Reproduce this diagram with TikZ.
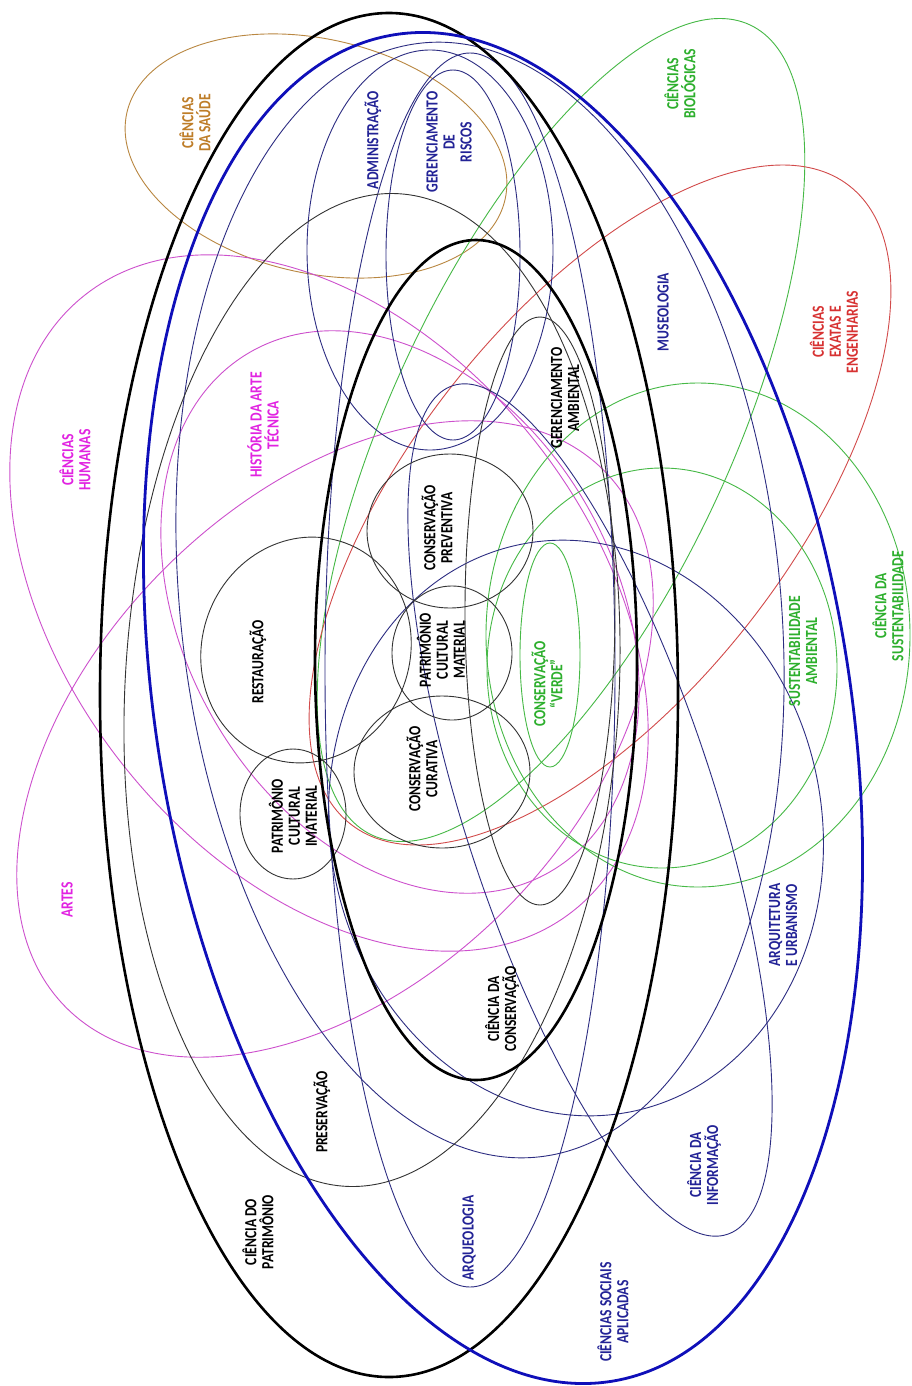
\documentclass[tikz,border=0pt]{standalone}
\usepackage{fontspec}
\newfontfamily\labfont{Carlito}[FakeStretch=0.8]
\definecolor{kblue}{RGB}{15,15,185}
\definecolor{tblue}{RGB}{45,45,130}
\definecolor{lblue}{RGB}{35,35,150}
\definecolor{kgreen}{RGB}{70,185,70}
\definecolor{lgreen}{RGB}{45,175,45}
\definecolor{kred}{RGB}{210,75,75}
\definecolor{lred}{RGB}{215,50,50}
\definecolor{kmag}{RGB}{205,80,205}
\definecolor{lmag}{RGB}{225,35,225}
\definecolor{kbrown}{RGB}{185,135,65}
\definecolor{lbrown}{RGB}{190,125,40}
\begin{document}
\begin{tikzpicture}[x=1pt,y=-1pt,
  thin line/.style={line width=0.9pt},
  kthin/.style={thin line,draw=black!80},
  bthin/.style={thin line,draw=tblue},
  gthin/.style={thin line,draw=kgreen},
  rthin/.style={thin line,draw=kred},
  mthin/.style={thin line,draw=kmag},
  brthin/.style={thin line,draw=kbrown},
  kthick/.style={line width=2.6pt,draw=black},
  bthick/.style={line width=2.8pt,draw=kblue},
  lab/.style={font=\labfont\bfseries\fontsize{17}{17}\selectfont,align=center,rotate=90,inner sep=0pt}]
\fill[white] (0,0) rectangle (911,1386);
\useasboundingbox (0,0) rectangle (911,1386);
% outer fields
\draw[brthin,rotate around={-13:(316,156)}] (316,156) ellipse [x radius=194,y radius=117];
\draw[gthin,rotate around={-25:(561,430)}] (561,430) ellipse [x radius=170,y radius=447];
\draw[rthin,rotate around={-38:(600,505)}] (600,505) ellipse [x radius=190,y radius=405];
\draw[mthin,rotate around={38.5:(329,603)}] (329,603) ellipse [x radius=262,y radius=393];
\draw[mthin,rotate around={45:(335,739)}] (335,739) ellipse [x radius=380,y radius=241];
\draw[mthin,rotate around={30:(400,612)}] (400,612) ellipse [x radius=215,y radius=300];
\draw[gthin] (662,668) ellipse [x radius=175,y radius=200];
\draw[gthin] (698,635) ellipse [x radius=212,y radius=252];
\draw[gthin] (550,655) ellipse [x radius=30,y radius=112];
% blue thin
\draw[bthin] (430,250) ellipse [x radius=123,y radius=200];
\draw[bthin] (453,255) ellipse [x radius=67,y radius=185];
\draw[bthin,rotate around={6:(480,600)}] (480,600) ellipse [x radius=300,y radius=560];
\draw[bthin] (470,670) ellipse [x radius=145,y radius=617];
\draw[bthin,rotate around={10:(576,828)}] (576,828) ellipse [x radius=246,y radius=289];
\draw[bthin,rotate around={17.9:(590,810)}] (590,810) ellipse [x radius=126,y radius=446];
% black thin
\draw[kthin,rotate around={-3:(372,690)}] (372,690) ellipse [x radius=247,y radius=497];
\draw[kthin] (540,611) ellipse [x radius=75,y radius=294];
\draw[kthin,rotate around={-20:(306,650)}] (306,650) ellipse [x radius=104,y radius=114];
\draw[kthin] (293,814) ellipse [x radius=53,y radius=65];
\draw[kthin] (442,772) ellipse [x radius=88,y radius=76];
\draw[kthin] (452,653) ellipse [x radius=60,y radius=67];
\draw[kthin] (450,531) ellipse [x radius=83,y radius=77];
% thick
\draw[kthick] (389,695) ellipse [x radius=289,y radius=682];
\draw[kthick] (476,660) ellipse [x radius=161,y radius=420];
\draw[bthick,rotate around={9.2:(503,708)}] (503,708) ellipse [x radius=347,y radius=682];
% labels
\node[lab,text=lbrown] (saude) at (195,123) {CIÊNCIAS\\DA SAÚDE};
\node[lab,text=lblue] (adm) at (373,140) {ADMINISTRAÇÃO};
\node[lab,text=lblue] (gris) at (449,142) {GERENCIAMENTO\\DE\\RISCOS};
\node[lab,text=lgreen] (bio) at (680,84) {CIÊNCIAS\\BIOLÓGICAS};
\node[lab,text=lblue] (mus) at (663,312) {MUSEOLOGIA};
\node[lab,text=lred] (exa) at (834,332) {CIÊNCIAS\\EXATAS E\\ENGENHARIAS};
\node[lab,text=lmag] (hum) at (75,460) {CIÊNCIAS\\HUMANAS};
\node[lab,text=lmag] (hist) at (263,425) {HISTÓRIA DA ARTE\\TÉCNICA};
\node[lab] (gamb) at (565,398) {GERENCIAMENTO\\AMBIENTAL};
\node[lab] (cprev) at (437,528) {CONSERVAÇÃO\\PREVENTIVA};
\node[lab] (rest) at (258,662) {RESTAURAÇÃO};
\node[lab] (pcm) at (441,650) {PATRIMÔNIO\\CULTURAL\\MATERIAL};
\node[lab,text=lgreen] (verde) at (547,684) {CONSERVAÇÃO\\“VERDE”};
\node[lab,text=lgreen] (samb) at (803,651) {SUSTENTABILIDADE\\AMBIENTAL};
\node[lab,text=lgreen] (csus) at (888,606) {CIÊNCIA DA\\SUSTENTABILIDADE};
\node[lab] (pci) at (293,816) {PATRIMÔNIO\\CULTURAL\\IMATERIAL};
\node[lab] (ccur) at (422,769) {CONSERVAÇÃO\\CURATIVA};
\node[lab,text=lmag] (artes) at (67,900) {ARTES};
\node[lab,text=lblue] (arq) at (783,925) {ARQUITETURA\\E URBANISMO};
\node[lab] (ccons) at (502,1009) {CIÊNCIA DA\\CONSERVAÇÃO};
\node[lab] (pres) at (322,1112) {PRESERVAÇÃO};
\node[lab,text=lblue] (cinf) at (704,1165) {CIÊNCIA DA\\INFORMAÇÃO};
\node[lab] (cpat) at (258,1232) {CIÊNCIA DO\\PATRIMÔNIO};
\node[lab,text=lblue] (arqueo) at (469,1238) {ARQUEOLOGIA};
\node[lab,text=lblue] (csa) at (613,1312) {CIÊNCIAS SOCIAIS\\APLICADAS};
\end{tikzpicture}
\end{document}
